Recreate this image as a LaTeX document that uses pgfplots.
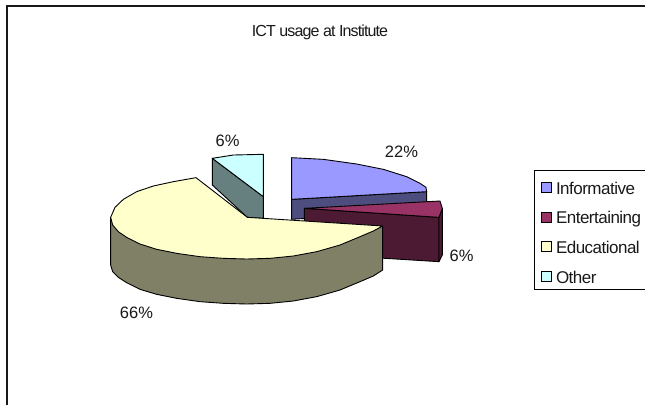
\documentclass[border=0pt]{standalone}
\usepackage{fontspec}
\setmainfont{Liberation Sans}
\newfontfamily\tightA[LetterSpace=-5.5]{Liberation Sans}
\newfontfamily\tightB[LetterSpace=-3]{Liberation Sans}
\usepackage{pgfplots}
\pgfplotsset{compat=1.18}
\definecolor{infoT}{HTML}{9999FF}
\definecolor{infoS}{HTML}{4D4D80}
\definecolor{entT}{HTML}{993366}
\definecolor{entS}{HTML}{4D1A33}
\definecolor{eduT}{HTML}{FFFFCC}
\definecolor{eduS}{HTML}{808066}
\definecolor{othT}{HTML}{CCFFFF}
\definecolor{othS}{HTML}{668080}
\pgfplotsset{
  z/.style={x filter/.expression={90+x/3}, y filter/.expression={130+y/3}},
  piece/.style={z, draw=black, line width=0.9pt, line join=round, fill=#1, mark=none, forget plot},
  key/.style={draw=black, line width=0.8pt, fill=#1, mark=none, forget plot},
  frameln/.style={draw=black!90, line width=1.6pt, mark=none, forget plot},
}
\begin{document}
\begin{tikzpicture}
\begin{axis}[
  scale only axis, width=645pt, height=405pt,
  xmin=0, xmax=645, ymin=0, ymax=405, y dir=reverse,
  axis lines=none, clip=true,
]
\addplot[draw=none, fill=white, forget plot] coordinates {(0,0)(645,0)(645,405)(0,405)} --cycle;
% chart frame
\addplot[frameln] coordinates {(7,405)(7,6)(645,6)};
% Informative
\addplot[piece=infoS] coordinates {(605,208)(1010,185)(1010,240)(605,268)} --cycle;
\addplot[piece=infoT] coordinates {(605,83)(605,208)(1010,185)(1008,172)(990,160)(950,140)(880,118)(800,102)(700,88)} --cycle;
% Other
\addplot[piece=othS] coordinates {(367,85)(520,200)(520,265)(472,262)(367,165)} --cycle;
\addplot[piece=othT] coordinates {(367,85)(430,75)(520,73)(520,200)} --cycle;
% Entertaining
\addplot[piece=entS] coordinates {(643,235)(1047,262)(1047,395)(643,370)} --cycle;
\addplot[piece=entS] coordinates {(1047,262)(1057,235)(1057,375)(1047,395)} --cycle;
\addplot[piece=entT] coordinates {(643,235)(1050,213)(1057,235)(1047,262)} --cycle;
% Educational
\addplot[piece=eduS] coordinates {(62,262)(62,405)(68,425)(85,442)(110,458)(150,478)(200,493)(260,505)(330,515)(400,520)(470,522)(540,520)(610,513)(680,500)(750,480)(810,455)(850,438)(878,420)(878,288)} --cycle;
\addplot[piece=eduT] coordinates {(472,262)(318,143)(250,155)(190,168)(140,185)(100,208)(75,232)(62,262)(68,285)(85,305)(110,322)(150,342)(200,358)(260,370)(330,380)(400,385)(470,387)(540,385)(610,378)(680,365)(750,345)(810,320)(850,303)(878,288)} --cycle;
% legend
\addplot[draw=black, line width=1pt, mark=none, forget plot] coordinates {(645,170)(534,170)(534,289)(645,289)};
\addplot[key=infoT] coordinates {(541,182)(551,182)(551,192)(541,192)} --cycle;
\addplot[key=entT] coordinates {(541,212)(551,212)(551,222)(541,222)} --cycle;
\addplot[key=eduT] coordinates {(541,241.5)(551,241.5)(551,251.5)(541,251.5)} --cycle;
\addplot[key=othT] coordinates {(541,271)(551,271)(551,281)(541,281)} --cycle;
\begin{scope}[every node/.style={inner sep=0pt, outer sep=0pt, text=black!90}]
\node[anchor=base] at (axis cs:320,36.7) {\tightA\fontsize{16}{18}\selectfont ICT usage at Institute};
\node[anchor=base] at (axis cs:401.5,157) {\fontsize{16.5}{18}\selectfont 22\%};
\node[anchor=base] at (axis cs:227.5,146) {\fontsize{16.5}{18}\selectfont 6\%};
\node[anchor=base] at (axis cs:461.5,261) {\fontsize{16.5}{18}\selectfont 6\%};
\node[anchor=base] at (axis cs:136.5,318) {\fontsize{16.5}{18}\selectfont 66\%};
\node[anchor=base west] at (axis cs:556,194) {\tightB\fontsize{17}{19}\selectfont Informative};
\node[anchor=base west] at (axis cs:556,223.5) {\tightB\fontsize{17}{19}\selectfont Entertaining};
\node[anchor=base west] at (axis cs:556,253) {\tightB\fontsize{17}{19}\selectfont Educational};
\node[anchor=base west] at (axis cs:556,283) {\tightB\fontsize{17}{19}\selectfont Other};
\end{scope}
\end{axis}
\end{tikzpicture}
\end{document}
